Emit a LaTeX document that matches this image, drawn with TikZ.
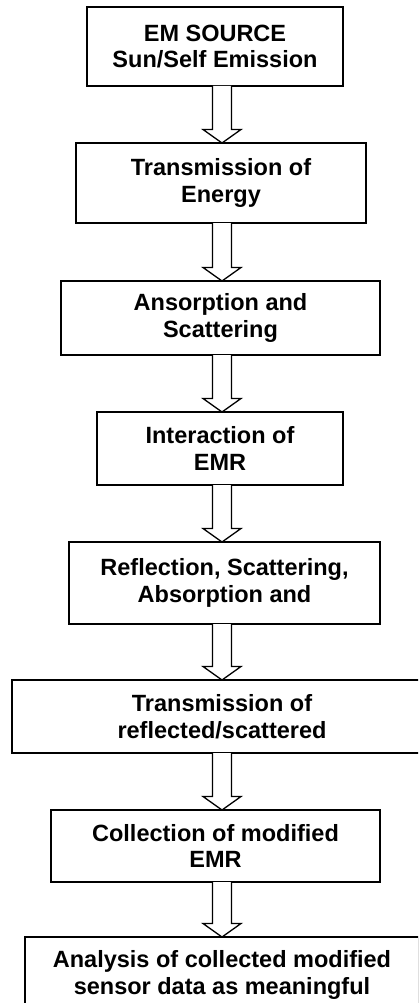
\documentclass[tikz,border=0pt]{standalone}
\usepackage{fontspec}
\setmainfont{Liberation Sans}
\usetikzlibrary{calc}
\tikzset{
  stage/.style = {draw = black, fill = white, line width = 1.6pt, inner sep = 0, outer sep = 0, align = center, font = \bfseries\fontsize{23.5}{26.5}\selectfont},
  fat arrow/.style = {draw = black, fill = white, line width = 1.3pt, line join = miter}
}
\begin{document}
\begin{tikzpicture}[x = 1pt, y = -1pt]
\pgfmathsetlengthmacro\shaftw{9.5}
\pgfmathsetlengthmacro\headw{19}
\pgfmathsetlengthmacro\headlen{13.5}
\useasboundingbox (0,0) rectangle (418,1003);
\clip (0,0) rectangle (418,1003);
\coordinate (axis) at (222,0);
% the stages, top to bottom
\node [stage, minimum width = 256, minimum height = 79] (b1) at (215,46.5) {EM SOURCE\\Sun/Self Emission};
\node [stage, minimum width = 290, minimum height = 80] (b2) at (221,183) {Transmission of\\Energy};
\node [stage, minimum width = 319, minimum height = 74] (b3) at (220.5,318) {Ansorption and\\Scattering};
\node [stage, minimum width = 246, minimum height = 73] (b4) at (220,448.5) {Interaction of\\EMR};
\node [stage, minimum width = 311, minimum height = 82] (b5) at (224.5,583) {Reflection, Scattering,\\Absorption and};
\node [stage, minimum width = 420, minimum height = 73] (b6) at (222,716.5) {Transmission of\\reflected/scattered};
\node [stage, minimum width = 329, minimum height = 72] (b7) at (215.5,846) {Collection of modified\\EMR};
\node [stage, minimum width = 394, minimum height = 76] (b8) at (222,975) {Analysis of collected modified\\sensor data as meaningful};
% hollow arrows between the stages
\foreach \i [count = \j from 2] in {1,...,7}
  \draw [fat arrow] let \p1 = (b\i.south -| axis), \p2 = (b\j.north -| axis) in
    (\x1-\shaftw,\y1) -- (\x1-\shaftw,\y2+\headlen) -- (\x1-\headw,\y2+\headlen) -- (\x1,\y2)
    -- (\x1+\headw,\y2+\headlen) -- (\x1+\shaftw,\y2+\headlen) -- (\x1+\shaftw,\y1);
\end{tikzpicture}
\end{document}
